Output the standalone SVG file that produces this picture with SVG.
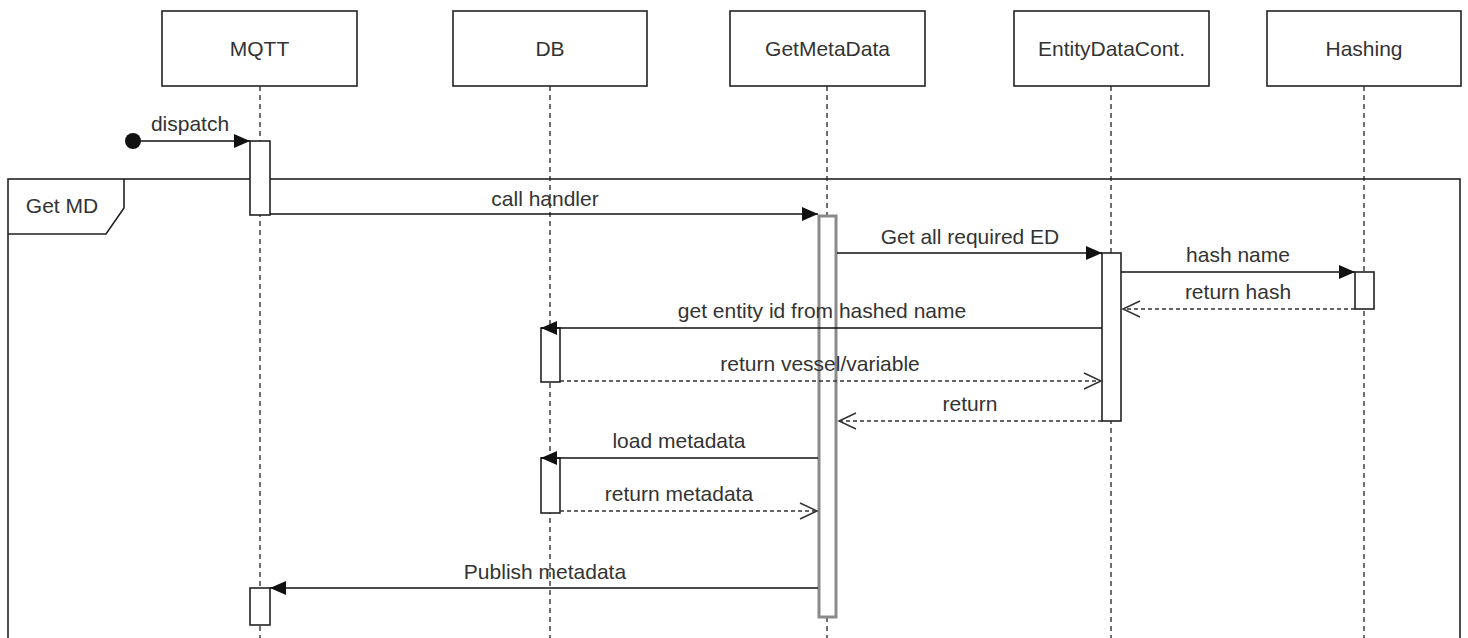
<svg xmlns="http://www.w3.org/2000/svg" width="1468" height="638" viewBox="0 0 1468 638">
  <style>
    text { font-family: "Liberation Sans", Arial, Helvetica, sans-serif; font-size: 21px; fill: #333; text-anchor: middle; }
    .head { fill: #fff; stroke: #222; stroke-width: 1.6; }
    .life { stroke: #222; stroke-width: 1.3; stroke-dasharray: 5 4; fill: none; }
    .act { fill: #fff; stroke: #222; stroke-width: 1.6; }
    .act-gray { fill: #fff; stroke: #8a8a8a; stroke-width: 3; }
    .msg { stroke: #111; stroke-width: 1.6; fill: none; marker-end: url(#solid); }
    .ret { stroke: #333; stroke-width: 1.4; stroke-dasharray: 4 3; fill: none; marker-end: url(#open); }
    .frame { fill: none; stroke: #222; stroke-width: 1.6; }
  </style>
  <defs>
    <marker id="solid" viewBox="0 0 16 14" refX="16" refY="7" markerWidth="16" markerHeight="14" markerUnits="userSpaceOnUse" orient="auto">
      <path d="M0,0 L16,7 L0,14 z" fill="#111"/>
    </marker>
    <marker id="open" viewBox="0 0 20 20" refX="18" refY="10" markerWidth="20" markerHeight="20" markerUnits="userSpaceOnUse" orient="auto">
      <path d="M1,2 L18,10 L1,18" fill="none" stroke="#333" stroke-width="1.5"/>
    </marker>
  </defs>

  <rect width="1468" height="638" fill="#fff"/>

  <!-- combined fragment frame -->
  <g id="frame-get-md">
    <rect class="frame" x="8" y="179" width="1452" height="480"/>
    <path class="frame" d="M8,234 L106,234 L124,208 L124,179"/>
    <text x="62" y="213">Get MD</text>
  </g>

  <!-- lifelines -->
  <g id="mqtt">
    <line class="life" x1="260" y1="86" x2="260" y2="638"/>
    <rect class="head" x="162" y="11" width="195" height="75"/>
    <text x="259.5" y="56">MQTT</text>
  </g>
  <g id="db">
    <line class="life" x1="550" y1="86" x2="550" y2="638"/>
    <rect class="head" x="453" y="11" width="194" height="75"/>
    <text x="550" y="56">DB</text>
  </g>
  <g id="getmetadata">
    <line class="life" x1="827" y1="86" x2="827" y2="638"/>
    <rect class="head" x="730" y="11" width="195" height="75"/>
    <text x="827.5" y="56">GetMetaData</text>
  </g>
  <g id="entitydatacont">
    <line class="life" x1="1111" y1="86" x2="1111" y2="638"/>
    <rect class="head" x="1014" y="11" width="195" height="75"/>
    <text x="1111.5" y="56">EntityDataCont.</text>
  </g>
  <g id="hashing">
    <line class="life" x1="1364" y1="86" x2="1364" y2="638"/>
    <rect class="head" x="1267" y="11" width="194" height="75"/>
    <text x="1364" y="56">Hashing</text>
  </g>

  <!-- activation bars -->
  <g id="activations">
    <rect class="act" x="250" y="141" width="20" height="74"/>
    <rect class="act-gray" x="819" y="216" width="17" height="401"/>
    <rect class="act" x="1102" y="253" width="19" height="168"/>
    <rect class="act" x="1355" y="272" width="19" height="37"/>
    <rect class="act" x="541" y="328" width="19" height="54"/>
    <rect class="act" x="541" y="458" width="19" height="55"/>
    <rect class="act" x="250" y="588" width="20" height="37"/>
  </g>

  <!-- messages -->
  <g id="connectors">
    <circle cx="133" cy="141" r="8" fill="#111"/>
    <line class="msg" x1="133" y1="141" x2="250" y2="141"/>
    <text x="190" y="131">dispatch</text>

    <line class="msg" x1="270" y1="214" x2="818" y2="214"/>
    <text x="545" y="206">call handler</text>

    <line class="msg" x1="837" y1="253" x2="1102" y2="253"/>
    <text x="970" y="244">Get all required ED</text>

    <line class="msg" x1="1121" y1="272" x2="1355" y2="272"/>
    <text x="1238" y="262">hash name</text>

    <line class="ret" x1="1355" y1="309" x2="1123" y2="309"/>
    <text x="1238" y="299">return hash</text>

    <line class="msg" x1="1102" y1="328" x2="541" y2="328"/>
    <text x="822" y="318">get entity id from hashed name</text>

    <line class="ret" x1="560" y1="381" x2="1101" y2="381"/>
    <text x="820" y="371">return vessel/variable</text>

    <line class="ret" x1="1102" y1="421" x2="839" y2="421"/>
    <text x="970" y="411">return</text>

    <line class="msg" x1="818" y1="458" x2="541" y2="458"/>
    <text x="679" y="448">load metadata</text>

    <line class="ret" x1="560" y1="511" x2="817" y2="511"/>
    <text x="679" y="501">return metadata</text>

    <line class="msg" x1="818" y1="588" x2="270" y2="588"/>
    <text x="545" y="579">Publish metadata</text>
  </g>
</svg>
